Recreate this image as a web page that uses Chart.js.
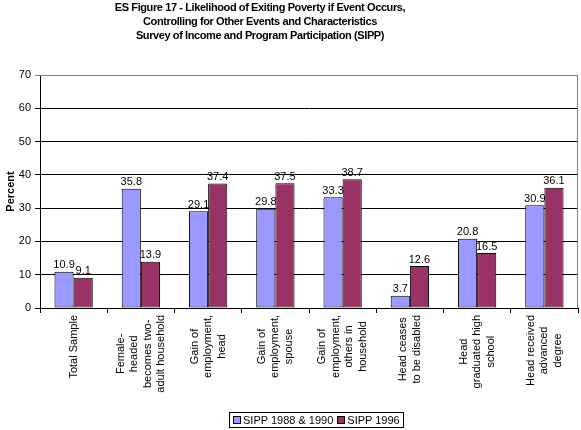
<!DOCTYPE html>
<html>
<head>
<meta charset="utf-8">
<script src="https://cdn.jsdelivr.net/npm/chart.js@4/dist/chart.umd.min.js"></script>
<style>
  body { margin: 0; background: #fff; font-family: "Liberation Sans", Arial, sans-serif; }
  #wrap { position: relative; width: 581px; height: 430px; }
  #title { position: absolute; left: 0; top: 0; width: 520px; text-align: center;
           font-weight: bold; font-size: 11px; line-height: 14px; letter-spacing: -0.4px; color: #000; }
  #legend { position: absolute; left: 229px; top: 412px; height: 14px; border: 1px solid #000;
            font-size: 11px; line-height: 14px; padding: 0 3px 0 3px; white-space: nowrap; }
  #legend span.box { display: inline-block; width: 6px; height: 6px; border: 1px solid #000;
                     margin-right: 2px; vertical-align: 0px; }
  #legend span.item { margin-right: 4px; }
  #legend span.item:last-child { margin-right: 0; }
</style>
</head>
<body>
<div id="wrap">
  <canvas id="chart" width="581" height="430"></canvas>
  <div id="title">ES Figure 17 - Likelihood of Exiting Poverty if Event Occurs,<br>Controlling for Other Events and Characteristics<br>Survey of Income and Program Participation (SIPP)</div>
  <div id="legend"></div>
</div>
<script>
// --- data ---
const categories = [
    ['Total Sample'],
    ['Female-', 'headed', 'becomes two-', 'adult household'],
    ['Gain of', 'employment,', 'head'],
    ['Gain of', 'employment,', 'spouse'],
    ['Gain of', 'employment,', 'others in', 'household'],
    ['Head ceases', 'to be disabled'],
    ['Head', 'graduated high', 'school'],
    ['Head received', 'advanced', 'degree']
];
const seriesNames = ['SIPP 1988 & 1990', 'SIPP 1996'];
const sipp8890 = [10.9, 35.8, 29.1, 29.8, 33.3, 3.7, 20.8, 30.9];
const sipp96 = [9.1, 13.9, 37.4, 37.5, 38.7, 12.6, 16.5, 36.1];
const yMin = 0, yMax = 70, yStep = 10;
const colors = ['#9999FF', '#993366'];

const FONT = '"Liberation Sans", Arial, sans-serif';

// value labels above bars
const valueLabels = {
    id: 'valueLabels',
    afterDatasetsDraw(chart) {
        const ctx = chart.ctx;
        ctx.save();
        ctx.font = '11px ' + FONT;
        ctx.fillStyle = '#000';
        ctx.textAlign = 'center';
        ctx.textBaseline = 'bottom';
        chart.data.datasets.forEach((ds, di) => {
            chart.getDatasetMeta(di).data.forEach((bar, i) => {
                ctx.fillText(ds.data[i].toFixed(1), bar.x, bar.y - 1);
            });
        });
        ctx.restore();
    }
};

// plot frame (grey top/right border like the original)
const plotFrame = {
    id: 'plotFrame',
    beforeDatasetsDraw(chart) {
        const a = chart.chartArea, ctx = chart.ctx;
        ctx.save();
        ctx.strokeStyle = '#808080';
        ctx.lineWidth = 1;
        ctx.beginPath();
        ctx.moveTo(a.left, a.top + 0.5);
        ctx.lineTo(a.right - 0.5, a.top + 0.5);
        ctx.lineTo(a.right - 0.5, a.bottom);
        ctx.stroke();
        ctx.restore();
    }
};

// wrapped, centred, rotated category labels
const catLabels = {
    id: 'catLabels',
    afterDraw(chart) {
        const xs = chart.scales.x, ctx = chart.ctx;
        ctx.save();
        ctx.font = '11px ' + FONT;
        ctx.fillStyle = '#000';
        ctx.textAlign = 'center';
        ctx.textBaseline = 'middle';
        const lh = 13.5;
        categories.forEach((lines, i) => {
            const cx = xs.getPixelForValue(i);
            const maxW = Math.max(...lines.map(l => ctx.measureText(l).width));
            const cy = xs.top + 7 + maxW / 2;
            lines.forEach((l, j) => {
                ctx.save();
                ctx.translate(cx + (j - (lines.length - 1) / 2) * lh, cy);
                ctx.rotate(-Math.PI / 2);
                ctx.fillText(l, 0, 0);
                ctx.restore();
            });
        });
        ctx.restore();
    }
};

new Chart(document.getElementById('chart'), {
    type: 'bar',
    data: {
        labels: categories.map(c => c.join(' ')),
        datasets: [
            { label: seriesNames[0], data: sipp8890, backgroundColor: colors[0] },
            { label: seriesNames[1], data: sipp96, backgroundColor: colors[1] }
        ].map(d => Object.assign(d, {
            borderColor: '#000', borderWidth: 1, borderSkipped: false,
            barPercentage: 1, categoryPercentage: 0.57
        }))
    },
    options: {
        responsive: false,
        animation: false,
        layout: { padding: { top: 75, right: 3, left: 0, bottom: 0 } },
        plugins: { legend: { display: false }, tooltip: { enabled: false } },
        scales: {
            x: {
                grid: { offset: true, drawOnChartArea: false, drawTicks: true, tickLength: 5, color: '#000' },
                border: { color: '#000' },
                ticks: { callback: () => '' },
                afterFit(s) { s.height = 122; }
            },
            y: {
                min: yMin, max: yMax,
                ticks: { stepSize: yStep, color: '#000', font: { size: 11, family: FONT }, padding: 4 },
                grid: {
                    color: c => c.tick && c.tick.value === yMax ? '#808080' : '#000',
                    tickLength: 5
                },
                border: { color: '#000' },
                title: { display: true, text: 'Percent', color: '#000',
                         font: { size: 11, weight: 'bold', family: FONT } },
                afterFit(s) { s.width = 40; }
            }
        }
    },
    plugins: [plotFrame, valueLabels, catLabels]
});

// legend
document.getElementById('legend').innerHTML = seriesNames.map((n, i) =>
    `<span class="item"><span class="box" style="background:${colors[i]}"></span>${n}</span>`).join('');
</script>
</body>
</html>
